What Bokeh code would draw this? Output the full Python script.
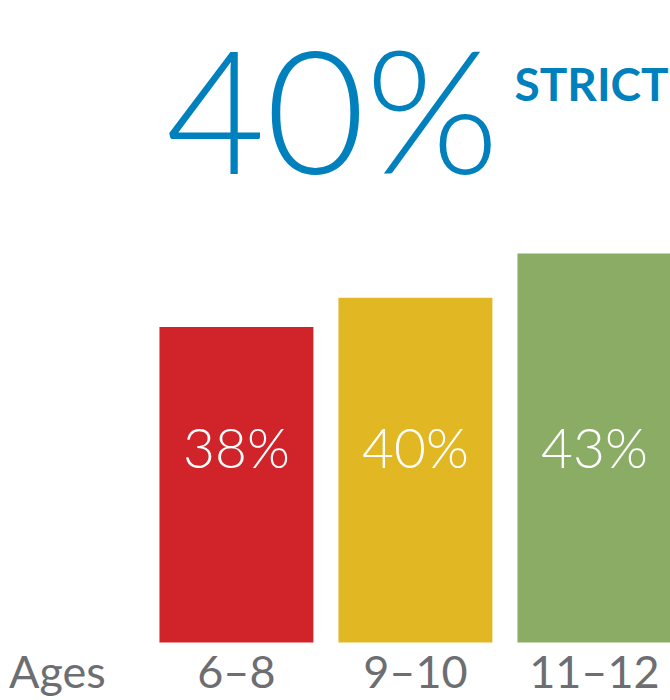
from bokeh.plotting import figure
from bokeh.models import Range1d, Label, LabelSet, ColumnDataSource
from bokeh.core.properties import value
from bokeh.embed import file_html
from bokeh.resources import INLINE

# ---- data ----
tick_labels = ["Ages", "6–8", "9–10", "11–12"]
age_groups = ["6–8", "9–10", "11–12"]
strict_pct = [38, 40, 43]
bar_colors = ["#D1232A", "#E1B823", "#8AAC64"]
value_labels = ["38%", "40%", "43%"]
overall_value = "40%"
overall_label = "STRICT"

BLUE = "#0081BD"
GRAY = "#6D6E71"
BASE = 16.56  # value at bar bottoms

positions = [tick_labels.index(a) for a in age_groups]

src = ColumnDataSource(dict(x=positions, top=strict_pct, color=bar_colors,
                            label=value_labels))
tick_src = ColumnDataSource(dict(x=list(range(len(tick_labels))),
                                 label=tick_labels))

p = figure(width=670, height=700, output_backend="svg",
           toolbar_location=None, min_border=0,
           x_range=Range1d(-0.318, 3.425), y_range=Range1d(12.62, 60.2))
p.outline_line_color = None
p.grid.visible = False
p.axis.visible = False
p.background_fill_color = "white"
p.border_fill_color = "white"

p.vbar(x="x", top="top", bottom=BASE, width=0.86, color="color",
       line_color=None, source=src)

p.add_layout(LabelSet(x="x", y=13, y_units="screen", text="label",
                      source=tick_src, text_font=value("Lato"),
                      text_font_size="45px", text_color=GRAY,
                      text_align="center", text_baseline="alphabetic"))

p.add_layout(LabelSet(x="x", y=233, y_units="screen", text="label",
                      source=src, text_font=value("Lato Light"),
                      text_font_size="55px", text_color="white",
                      text_align="center", text_baseline="alphabetic"))

p.add_layout(Label(x=332, y=593, x_units="screen", y_units="screen",
                   text=overall_value, text_font="Lato Light",
                   text_font_size="172px", text_color=BLUE,
                   text_align="center", text_baseline="alphabetic"))
p.add_layout(Label(x=514, y=617, x_units="screen", y_units="screen",
                   text=overall_label, text_font="Lato",
                   text_font_style="bold", text_font_size="46px",
                   text_color=BLUE, text_baseline="alphabetic"))

open("out.html", "w").write(file_html(p, INLINE))
